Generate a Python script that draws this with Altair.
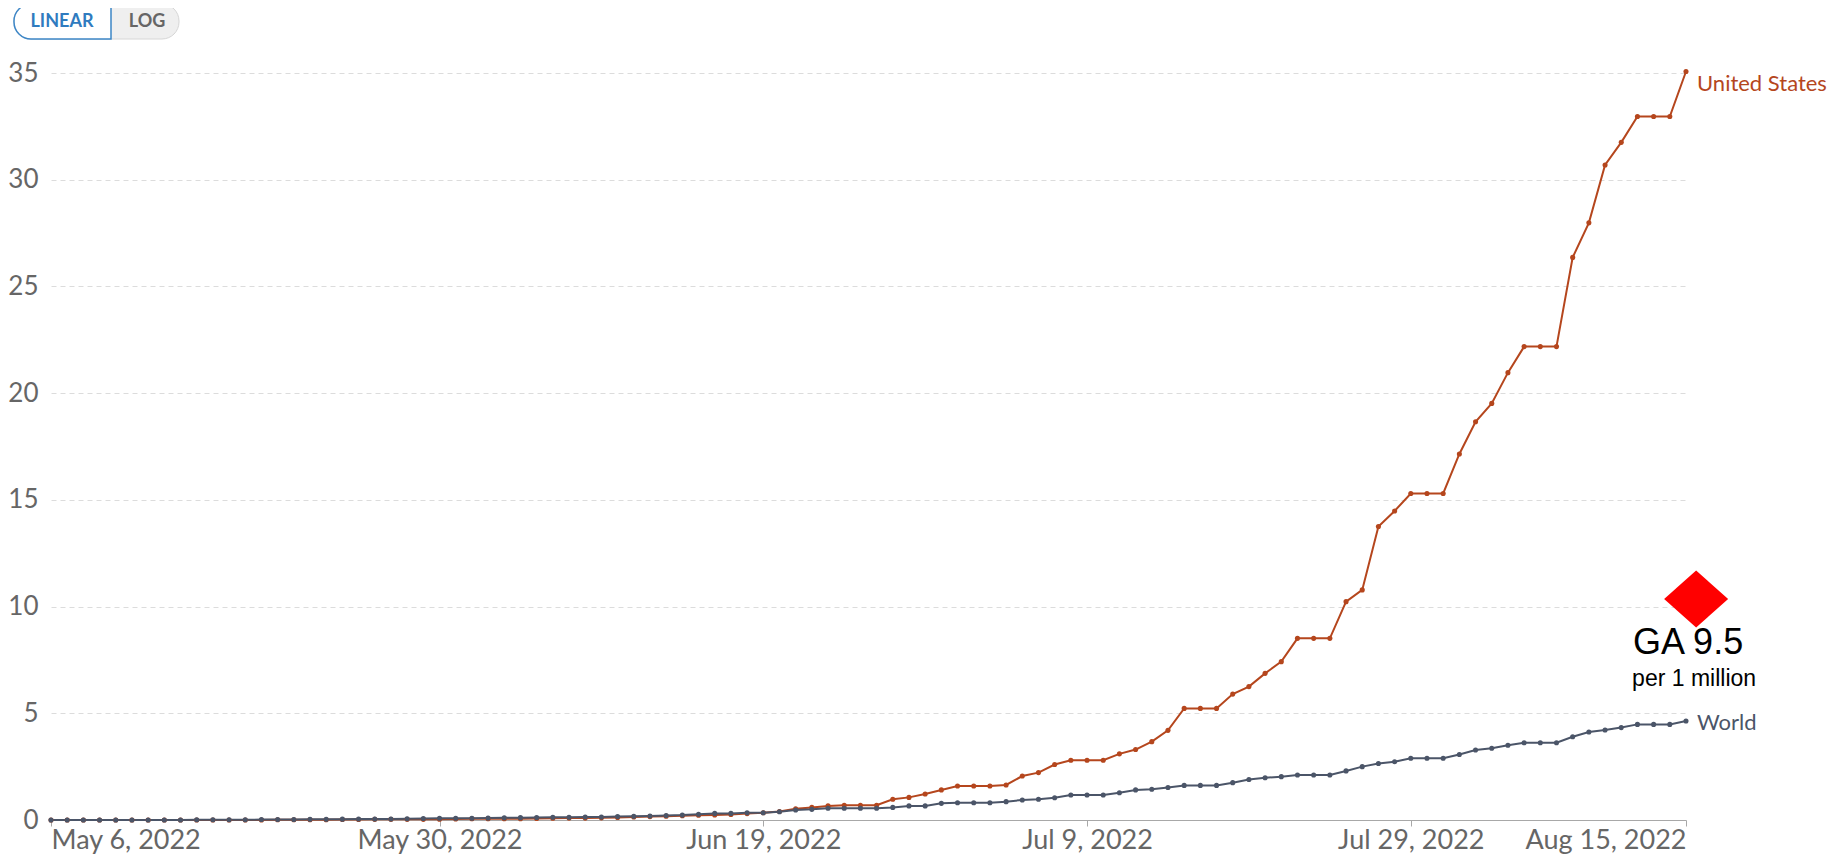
import altair as alt
import pandas as pd

# ---------------- data ----------------
dates = pd.date_range("2022-05-06", "2022-08-15", freq="D").strftime("%Y-%m-%dT00:00:00").tolist()

us_values = [
    0, 0, 0, 0, 0, 0, 0, 0, 0, 0,
    0, 0, 0.00, 0.00, 0.01, 0.01, 0.01, 0.01, 0.02, 0.02,
    0.03, 0.03, 0.03, 0.03, 0.04, 0.05, 0.06, 0.06, 0.06, 0.06,
    0.07, 0.08, 0.09, 0.09, 0.10, 0.12, 0.14, 0.16, 0.18, 0.20,
    0.22, 0.24, 0.26, 0.30, 0.34, 0.40, 0.53, 0.59, 0.66, 0.69,
    0.69, 0.69, 0.97, 1.06, 1.22, 1.41, 1.59, 1.59, 1.59, 1.64,
    2.06, 2.22, 2.60, 2.80, 2.80, 2.80, 3.10, 3.30, 3.67, 4.20,
    5.23, 5.23, 5.23, 5.90, 6.25, 6.87, 7.42, 8.51, 8.51, 8.51,
    10.23, 10.78, 13.75, 14.48, 15.30, 15.30, 15.30, 17.15, 18.66, 19.52,
    20.96, 22.18, 22.18, 22.18, 26.36, 27.98, 30.69, 31.75, 32.96, 32.96,
    32.96, 35.07,
]

world_values = [
    0.00, 0.00, 0.00, 0.00, 0.00, 0.00, 0.00, 0.00, 0.00, 0.01,
    0.01, 0.01, 0.01, 0.02, 0.02, 0.02, 0.03, 0.03, 0.04, 0.05,
    0.05, 0.05, 0.06, 0.07, 0.08, 0.08, 0.08, 0.09, 0.10, 0.11,
    0.12, 0.13, 0.13, 0.14, 0.14, 0.16, 0.17, 0.19, 0.21, 0.23,
    0.27, 0.31, 0.31, 0.34, 0.34, 0.39, 0.47, 0.50, 0.55, 0.55,
    0.55, 0.55, 0.59, 0.66, 0.66, 0.78, 0.81, 0.81, 0.81, 0.86,
    0.94, 0.97, 1.04, 1.17, 1.17, 1.17, 1.28, 1.41, 1.44, 1.52,
    1.62, 1.62, 1.62, 1.75, 1.90, 1.98, 2.03, 2.11, 2.11, 2.11,
    2.30, 2.50, 2.65, 2.73, 2.89, 2.89, 2.89, 3.07, 3.28, 3.36,
    3.50, 3.62, 3.62, 3.62, 3.90, 4.12, 4.22, 4.33, 4.48, 4.48,
    4.48, 4.64,
]

series_names = ["United States", "World"]
series_colors = ["#b5461d", "#4b5568"]

x_tick_dates = [(2022, 5, 6), (2022, 5, 30), (2022, 6, 19), (2022, 7, 9), (2022, 7, 29), (2022, 8, 15)]
y_tick_values = [0, 5, 10, 15, 20, 25, 30, 35]

annotation_main = ["GA 9.5"]
annotation_sub = ["per 1 million"]
annotation_date = ["2022-08-15T15:00:00"]
annotation_value = [10.35]

toggle_labels = ["LINEAR", "LOG"]

# ---------------- build tables ----------------
rows = []
for name, vals in zip(series_names, [us_values, world_values]):
    for d, v in zip(dates, vals):
        rows.append({"date": d, "value": v, "series": name})
df = pd.DataFrame(rows)

end_df = pd.DataFrame({
    "date": [dates[-1], dates[-1]],
    "value": [us_values[-1], world_values[-1]],
    "series": series_names,
})

ann_df = pd.DataFrame({"date": annotation_date, "value": annotation_value,
                       "main": annotation_main, "sub": annotation_sub})

FONT = "Lato"
AX_COLOR = "#666666"

x_dom = [alt.DateTime(year=2022, month=5, date=6), alt.DateTime(year=2022, month=8, date=15)]
x_vals = [alt.DateTime(year=y, month=m, date=d) for (y, m, d) in x_tick_dates]

x_enc = alt.X(
    "date:T",
    scale=alt.Scale(domain=x_dom),
    axis=alt.Axis(
        values=x_vals, format="%b %-d, %Y", labelFlush=True, grid=False,
        domainColor="#a8a8a8", tickColor="#a8a8a8", tickSize=6,
        labelFont=FONT, labelFontSize=27, labelColor=AX_COLOR, labelPadding=1,
        title=None,
    ),
)
y_enc = alt.Y(
    "value:Q",
    scale=alt.Scale(domain=[0, 35], nice=False, zero=True),
    axis=alt.Axis(
        values=y_tick_values, grid=True, gridDash=[5, 4], gridColor="#dcdcdc",
        domain=False, ticks=False, labelFont=FONT, labelFontSize=26,
        labelColor=AX_COLOR, labelPadding=13, title=None,
    ),
)
color_enc = alt.Color("series:N", scale=alt.Scale(domain=series_names, range=series_colors), legend=None)

base = alt.Chart(df)
lines = base.mark_line(strokeWidth=2).encode(x=x_enc, y=y_enc, color=color_enc, order=alt.Order("date:T"))
points = base.mark_circle(size=26, opacity=1).encode(x="date:T", y="value:Q", color=color_enc)

end_base = alt.Chart(end_df)
end_us = end_base.transform_filter(alt.datum.series == series_names[0]).mark_text(
    align="left", baseline="middle", dx=11, dy=12, font=FONT, fontSize=22).encode(
    x="date:T", y="value:Q", text="series:N", color=color_enc)
end_world = end_base.transform_filter(alt.datum.series == series_names[1]).mark_text(
    align="left", baseline="middle", dx=11, dy=2, font=FONT, fontSize=22).encode(
    x="date:T", y="value:Q", text="series:N", color=color_enc)

ann = alt.Chart(ann_df)
diamond = ann.mark_point(shape="M-1,0L0,-0.89L1,0L0,0.89Z", filled=True, size=4096,
                         color="#ff0000", opacity=1, strokeWidth=0).encode(x="date:T", y="value:Q")
ann_main = ann.mark_text(font="Liberation Sans", fontSize=36, color="black", baseline="alphabetic",
                         align="center", dx=-8, dy=55).encode(x="date:T", y="value:Q", text="main:N")
ann_sub = ann.mark_text(font="Liberation Sans", fontSize=23, color="black", baseline="alphabetic",
                        align="center", dx=-2, dy=87).encode(x="date:T", y="value:Q", text="sub:N")

# ---------------- LINEAR / LOG toggle (decoration) ----------------
one = alt.Chart(pd.DataFrame({"k": [0]}))
pill = one.mark_rect(fill="#efefef", stroke="#d6d6d6", strokeWidth=1, cornerRadius=17).encode(
    x=alt.value(-37), x2=alt.value(128), y=alt.value(-69), y2=alt.value(-34))
lin_box = one.mark_rect(fill="white", stroke="#3d86c6", strokeWidth=1.5,
                        cornerRadiusTopLeft=17, cornerRadiusBottomLeft=17).encode(
    x=alt.value(-37), x2=alt.value(60), y=alt.value(-69), y2=alt.value(-34))
lin_text = one.mark_text(font=FONT, fontSize=18, fontWeight="bold", baseline="middle",
                         align="center", color="#2f7bbf", text=toggle_labels[0]).encode(
    x=alt.value(11), y=alt.value(-51))
log_text = one.mark_text(font=FONT, fontSize=18, fontWeight="bold", baseline="middle",
                         align="center", color="#666666", text=toggle_labels[1]).encode(
    x=alt.value(96), y=alt.value(-51))

chart = alt.layer(
    lines, points, end_us, end_world, diamond, ann_main, ann_sub, pill, lin_box, lin_text, log_text
).properties(
    width=1635, height=747,
    background="white",
    autosize=alt.AutoSizeParams(type="none"),
    padding={"left": 43, "top": 65, "right": 150, "bottom": 35},
).configure_view(strokeWidth=0, stroke=None)

chart.save("out.html", embed_options={"renderer": "svg", "actions": False})
